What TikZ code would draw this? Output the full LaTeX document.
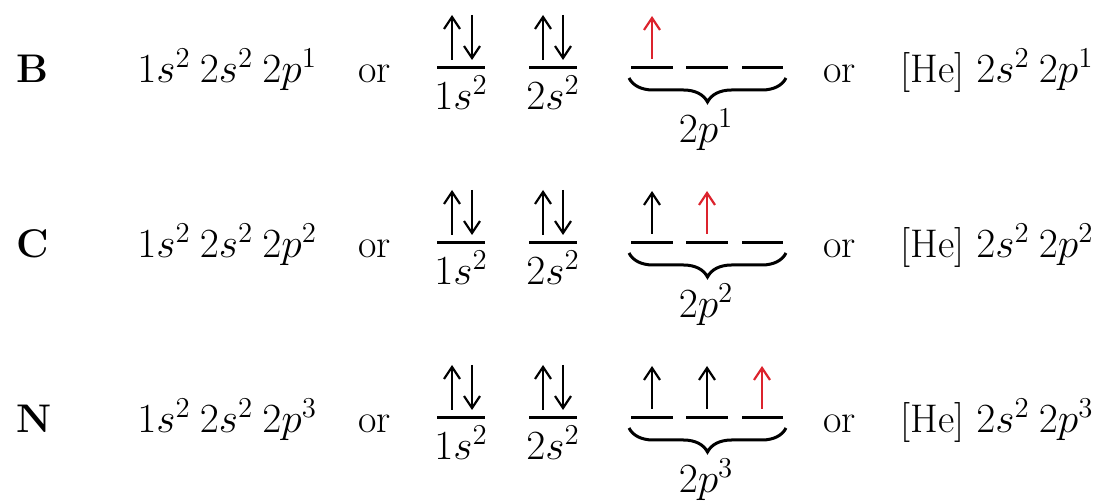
\documentclass[tikz,border=0pt]{standalone}
\usepackage{amsmath}
\usepackage{tikz}
\usepackage{xcolor}
\usetikzlibrary{arrows.meta,decorations.pathreplacing}
\definecolor{spinred}{RGB}{220,35,45}

\tikzset{
  txt/.style={font=\fontsize{20}{24}\selectfont, inner sep=0pt, anchor=base west},
  lbl/.style={font=\fontsize{20}{24}\selectfont, inner sep=0pt, anchor=base},
  orb/.style={line width=1.5pt},
  spin/.style={line width=1.1pt, -{Straight Barb[length=6pt,width=8pt]}},
  pbrace/.style={line width=1.5pt, decorate, decoration={brace, mirror, amplitude=12pt}}
}

\begin{document}
\begin{tikzpicture}[x=0.5pt,y=-0.5pt]
  \useasboundingbox (0,0) rectangle (1110,502);

  % boron
  \node[txt] (elB) at (16,83) {\textbf{B}};
  \node[txt] (cfgB) at (137,83) {$1s^2\:2s^2\:2p^1$};
  \node[txt] (orB) at (358,83) {or};
  \draw[orb] (437,68) -- (485,68);
  \draw[orb] (529,68) -- (577,68);
  \draw[spin] (452,60) -- (452,15);
  \draw[spin] (472,15) -- (472,60);
  \draw[spin] (543,60) -- (543,15);
  \draw[spin] (563,15) -- (563,60);
  \node[lbl] (oneB) at (461,110) {$1s^2$};
  \node[lbl] (twoB) at (553,110) {$2s^2$};
  \draw[orb] (631,68) -- (673,68);
  \draw[orb] (686,68) -- (728,68);
  \draw[orb] (742,68) -- (783,68);
  \draw[spin, spinred] (652,59) -- (652,16);
  \draw[pbrace] (629,78) -- (786,78);
  \node[lbl] (pB) at (706,143) {$2p^1$};
  \node[txt] (orBb) at (823,83) {or};
  \node[txt] (heB) at (900,83) {[He] $2s^2\:2p^1$};

  % carbon
  \begin{scope}[yshift=-87.5pt]
    \node[txt] (elC) at (16,83) {\textbf{C}};
    \node[txt] (cfgC) at (137,83) {$1s^2\:2s^2\:2p^2$};
    \node[txt] (orC) at (358,83) {or};
    \draw[orb] (437,68) -- (485,68);
    \draw[orb] (529,68) -- (577,68);
    \draw[spin] (452,60) -- (452,15);
    \draw[spin] (472,15) -- (472,60);
    \draw[spin] (543,60) -- (543,15);
    \draw[spin] (563,15) -- (563,60);
    \node[lbl] (oneC) at (461,110) {$1s^2$};
    \node[lbl] (twoC) at (553,110) {$2s^2$};
    \draw[orb] (631,68) -- (673,68);
    \draw[orb] (686,68) -- (728,68);
    \draw[orb] (742,68) -- (783,68);
    \draw[spin] (652,59) -- (652,16);
    \draw[spin, spinred] (707,59) -- (707,16);
    \draw[pbrace] (629,78) -- (786,78);
    \node[lbl] (pC) at (706,143) {$2p^2$};
    \node[txt] (orCb) at (823,83) {or};
    \node[txt] (heC) at (900,83) {[He] $2s^2\:2p^2$};
  \end{scope}

  % nitrogen
  \begin{scope}[yshift=-175pt]
    \node[txt] (elN) at (16,83) {\textbf{N}};
    \node[txt] (cfgN) at (137,83) {$1s^2\:2s^2\:2p^3$};
    \node[txt] (orN) at (358,83) {or};
    \draw[orb] (437,68) -- (485,68);
    \draw[orb] (529,68) -- (577,68);
    \draw[spin] (452,60) -- (452,15);
    \draw[spin] (472,15) -- (472,60);
    \draw[spin] (543,60) -- (543,15);
    \draw[spin] (563,15) -- (563,60);
    \node[lbl] (oneN) at (461,110) {$1s^2$};
    \node[lbl] (twoN) at (553,110) {$2s^2$};
    \draw[orb] (631,68) -- (673,68);
    \draw[orb] (686,68) -- (728,68);
    \draw[orb] (742,68) -- (783,68);
    \draw[spin] (652,59) -- (652,16);
    \draw[spin] (707,59) -- (707,16);
    \draw[spin, spinred] (762,59) -- (762,16);
    \draw[pbrace] (629,78) -- (786,78);
    \node[lbl] (pN) at (706,143) {$2p^3$};
    \node[txt] (orNb) at (823,83) {or};
    \node[txt] (heN) at (900,83) {[He] $2s^2\:2p^3$};
  \end{scope}
\end{tikzpicture}
\end{document}
